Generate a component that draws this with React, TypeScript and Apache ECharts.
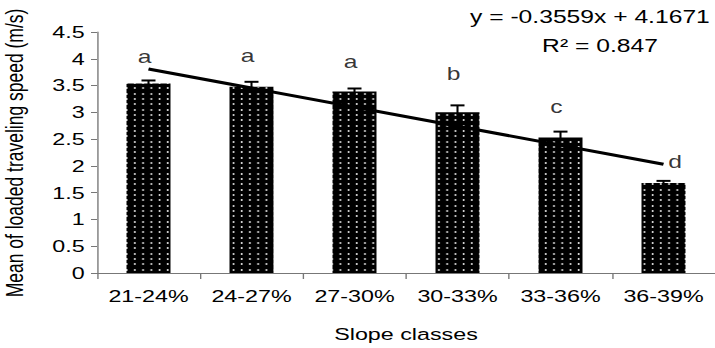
import React, { useEffect, useRef } from 'react';
import * as echarts from 'echarts';

const categories = ['21-24%', '24-27%', '27-30%', '30-33%', '33-36%', '36-39%'];
const meanSpeed = [3.54, 3.48, 3.39, 3.0, 2.53, 1.68];
const errorUp = [0.055, 0.09, 0.055, 0.13, 0.11, 0.04];
const groupLetters = ['a', 'a', 'a', 'b', 'c', 'd'];
const letterHeights = [4.03, 4.05, 3.94, 3.72, 3.11, 2.07];
const trendStart = 3.81;
const trendEnd = 2.03;
const yMin = 0;
const yMax = 4.5;
const yStep = 0.5;
const equationText = 'y = -0.3559x + 4.1671';
const r2Text = 'R² = 0.847';
const xTitle = 'Slope classes';
const yTitle = 'Mean of loaded traveling speed (m/s)';

const OUT_W = 715;
const H = 348;
const IN_W = 522;
const S = OUT_W / IN_W;
const FONT = '"Liberation Sans", Arial, Helvetica, sans-serif';

function makePattern(): HTMLCanvasElement {
  const c = document.createElement('canvas');
  c.width = 6;
  c.height = 16;
  const ctx = c.getContext('2d')!;
  ctx.fillStyle = '#000';
  ctx.fillRect(0, 0, 6, 16);
  ctx.fillStyle = '#fff';
  [0, 5, 11].forEach((y) => ctx.fillRect(2, y + 2, 1, 2));
  return c;
}

export default function App() {
  const ref = useRef<HTMLDivElement>(null);
  useEffect(() => {
    if (!ref.current) return;
    const chart = echarts.init(ref.current, null, { renderer: 'svg', width: IN_W, height: H });
    const pattern = makePattern();
    const axisColor = '#777';
    const option: any = {
      animation: false,
      backgroundColor: '#fff',
      textStyle: { fontFamily: FONT },
      grid: { left: 97 / S, top: 32, width: 630 / S, height: 246, containLabel: false },
      xAxis: {
        type: 'category',
        data: categories,
        boundaryGap: true,
        axisLine: { show: true, lineStyle: { color: axisColor, width: 1 } },
        axisTick: { show: true, length: 6, interval: 0, lineStyle: { color: axisColor } },
        axisLabel: { color: '#000', fontSize: 17, margin: 15, interval: 0, fontFamily: FONT },
        splitLine: { show: false },
        name: xTitle,
        nameLocation: 'middle',
        nameGap: 53,
        nameTextStyle: { color: '#000', fontSize: 17, fontFamily: FONT },
      },
      yAxis: {
        type: 'value',
        min: yMin,
        max: yMax,
        interval: yStep,
        axisLine: { show: true, lineStyle: { color: axisColor, width: 1 } },
        axisTick: { show: true, length: 6 / S, lineStyle: { color: axisColor } },
        axisLabel: { color: '#000', fontSize: 17, margin: 9, fontFamily: FONT },
        splitLine: { show: false },
      },
      graphic: [
        {
          type: 'text',
          x: 14 / S,
          y: 153,
          rotation: Math.PI / 2,
          style: {
            text: yTitle,
            font: `17.5px ${FONT}`,
            fill: '#000',
            textAlign: 'center',
            textVerticalAlign: 'middle',
          },
        },
        {
          type: 'text',
          x: 470 / S,
          y: 16.7,
          style: {
            text: equationText,
            font: `18px ${FONT}`,
            fill: '#000',
            textAlign: 'left',
            textVerticalAlign: 'middle',
          },
        },
        {
          type: 'text',
          x: 600 / S,
          y: 45.5,
          style: {
            text: r2Text,
            font: `18px ${FONT}`,
            fill: '#000',
            textAlign: 'center',
            textVerticalAlign: 'middle',
          },
        },
      ],
      series: [
        {
          type: 'bar',
          data: meanSpeed,
          barWidth: 44 / S,
          itemStyle: { color: { image: pattern, repeat: 'repeat' } },
          z: 2,
        },
        {
          type: 'custom',
          data: meanSpeed.map((v, i) => [i, v, v + errorUp[i]]),
          renderItem: (params: any, api: any) => {
            const base = api.coord([api.value(0), api.value(1)]);
            const top = api.coord([api.value(0), api.value(2)]);
            const hw = 7 / S;
            return {
              type: 'group',
              children: [
                {
                  type: 'line',
                  shape: { x1: base[0], y1: base[1] + 2, x2: top[0], y2: top[1] },
                  style: { stroke: '#000', lineWidth: 1.5 },
                },
                {
                  type: 'line',
                  shape: { x1: top[0] - hw, y1: top[1], x2: top[0] + hw, y2: top[1] },
                  style: { stroke: '#000', lineWidth: 2 },
                },
              ],
            };
          },
          z: 3,
        },
        {
          type: 'line',
          data: [
            [0, trendStart],
            [categories.length - 1, trendEnd],
          ],
          symbol: 'none',
          lineStyle: { color: '#000', width: 3 },
          z: 4,
        },
        {
          type: 'scatter',
          data: letterHeights.map((v, i) => ({
            value: [i, v],
            label: { offset: [i === categories.length - 1 ? 11.5 / S : -4 / S, 0] },
          })),
          symbolSize: 1,
          itemStyle: { color: 'transparent' },
          label: {
            show: true,
            position: 'inside',
            formatter: (p: any) => groupLetters[p.dataIndex],
            color: '#000',
            fontSize: 18,
            fontFamily: FONT,
          },
          z: 5,
        },
      ],
    };
    chart.setOption(option);
    return () => chart.dispose();
  }, []);

  return (
    <div
      style={{
        position: 'fixed',
        left: 0,
        top: 0,
        width: OUT_W,
        height: H,
        overflow: 'hidden',
        background: '#fff',
      }}
    >
      <div
        ref={ref}
        style={{
          width: IN_W,
          height: H,
          transform: `scaleX(${S})`,
          transformOrigin: '0 0',
        }}
      />
    </div>
  );
}
